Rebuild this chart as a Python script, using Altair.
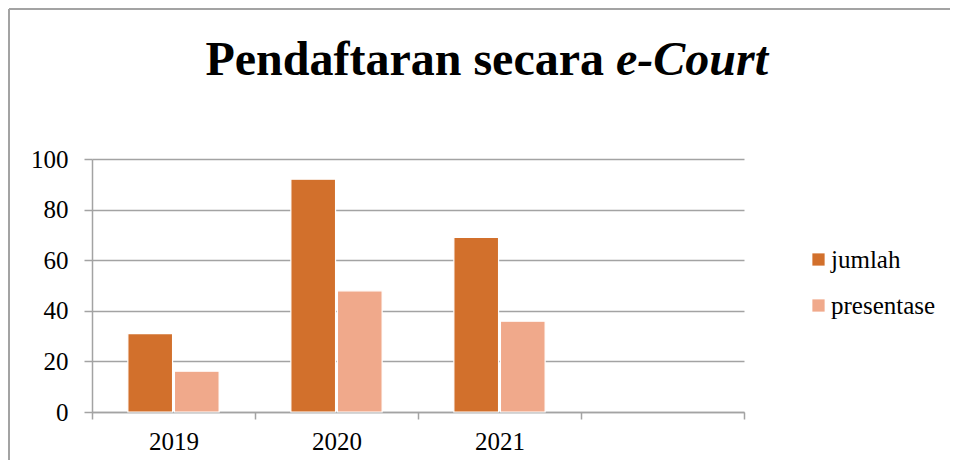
import altair as alt
import pandas as pd

# ---- data ----
years = ["2019", "2020", "2021"]
x_domain = ["2019", "2020", "2021", " "]
series = ["jumlah", "presentase"]
jumlah = [31, 92, 69]
presentase = [16.1, 47.9, 35.9]
colors = ["#D2702C", "#F0A98B"]
y_ticks = [0, 20, 40, 60, 80, 100]
title_a = "Pendaftaran secara"
title_b = "e-Court"

rows = []
for i, yr in enumerate(years):
    rows.append({"tahun": yr, "seri": series[0], "nilai": jumlah[i]})
    rows.append({"tahun": yr, "seri": series[1], "nilai": presentase[i]})
df = pd.DataFrame(rows)

W, H = 652, 253
FONT = "Liberation Serif"
GRAY = "#A3A3A3"

bars = alt.Chart(df).mark_bar(stroke="white", strokeWidth=1.2).encode(
    x=alt.X(
        "tahun:N",
        sort=x_domain,
        scale=alt.Scale(domain=x_domain, paddingInner=0, paddingOuter=0),
        axis=alt.Axis(
            title=None, labelAngle=0, tickBand="extent", grid=False,
            domainColor=GRAY, domainWidth=1.5, tickColor=GRAY, tickWidth=1.5,
            tickSize=7, labelFont=FONT, labelFontSize=25, labelColor="black",
            labelPadding=10,
        ),
    ),
    xOffset=alt.XOffset(
        "seri:N",
        scale=alt.Scale(domain=series, paddingOuter=0.77, paddingInner=0.04),
    ),
    y=alt.Y(
        "nilai:Q",
        scale=alt.Scale(domain=[0, 100], nice=False),
        axis=alt.Axis(
            title=None, values=y_ticks, grid=True, gridColor=GRAY, gridWidth=1.5,
            domainColor=GRAY, domainWidth=1.5, tickColor=GRAY, tickWidth=1.5,
            tickSize=8, labelFont=FONT, labelFontSize=25, labelColor="black",
            labelPadding=16,
        ),
    ),
    color=alt.Color(
        "seri:N",
        scale=alt.Scale(domain=series, range=colors),
        legend=alt.Legend(
            title=None, orient="none", legendX=714, legendY=88,
            symbolType="square", symbolSize=150, symbolStrokeWidth=0,
            labelFont=FONT, labelFontSize=25, labelColor="black",
            rowPadding=20, labelOffset=0,
        ),
    ),
)

t1 = alt.Chart(pd.DataFrame({"t": [title_a]})).mark_text(
    font=FONT, fontSize=48, fontWeight="bold", align="right", baseline="alphabetic",
    color="black",
).encode(text="t:N", x=alt.value(512), y=alt.value(-84))

t2 = alt.Chart(pd.DataFrame({"t": [title_b]})).mark_text(
    font=FONT, fontSize=48, fontWeight="bold", fontStyle="italic", align="left",
    baseline="alphabetic", color="black",
).encode(text="t:N", x=alt.value(524), y=alt.value(-84))

border_left = alt.Chart(pd.DataFrame({"a": [0]})).mark_rule(
    color=GRAY, strokeWidth=2
).encode(x=alt.value(-83), y=alt.value(-150), y2=alt.value(H + 60))

border_top = alt.Chart(pd.DataFrame({"a": [0]})).mark_rule(
    color=GRAY, strokeWidth=2
).encode(x=alt.value(-83), x2=alt.value(W + 216), y=alt.value(-150))

chart = alt.layer(bars, t1, t2, border_left, border_top).properties(
    width=W,
    height=H,
    padding={"left": 84, "top": 151, "right": 206, "bottom": 48},
    autosize=alt.AutoSizeParams(type="none"),
).configure_view(stroke=None)

chart.save("out.html", embed_options={"renderer": "svg", "actions": False})
